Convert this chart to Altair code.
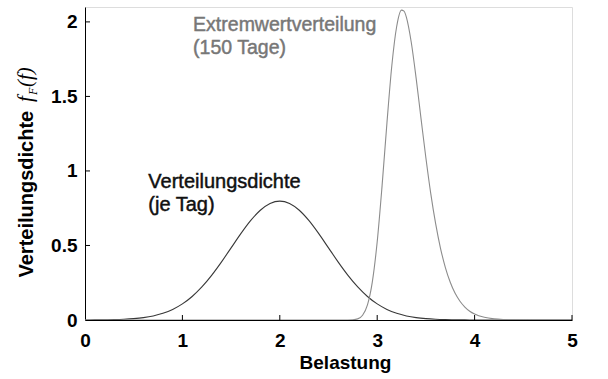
import altair as alt
import pandas as pd

# Daily load density
x_day = [0.0, 0.1, 0.2, 0.3, 0.4, 0.5, 0.6, 0.7, 0.8, 0.9,
         1.0, 1.1, 1.2, 1.3, 1.4, 1.5, 1.6, 1.7, 1.8, 1.9,
         2.0, 2.1, 2.2, 2.3, 2.4, 2.5, 2.6, 2.7, 2.8, 2.9,
         3.0, 3.1, 3.2, 3.3, 3.4, 3.5, 3.6, 3.7, 3.8, 3.9,
         4.0, 4.1, 4.2, 4.3, 4.5, 5.0]
y_day = [0.0003, 0.0006, 0.0012, 0.0025, 0.0048, 0.0089, 0.0158, 0.0271, 0.0448, 0.0709,
         0.1080, 0.1579, 0.2218, 0.2995, 0.3884, 0.4839, 0.5794, 0.6664, 0.7365, 0.7821,
         0.7979, 0.7821, 0.7365, 0.6664, 0.5794, 0.4839, 0.3884, 0.2995, 0.2218, 0.1579,
         0.1080, 0.0709, 0.0448, 0.0271, 0.0158, 0.0089, 0.0048, 0.0025, 0.0012, 0.0006,
         0.0003, 0.0001, 0.0001, 0.0, 0.0, 0.0]

# Extreme value density for 150 days
x_ext = [0.0, 2.6, 2.7, 2.75, 2.8, 2.85, 2.9, 2.95, 3.0, 3.05, 3.1, 3.15, 3.2, 3.25,
         3.275, 3.3, 3.35, 3.4, 3.45, 3.5, 3.55, 3.6, 3.65, 3.7, 3.75, 3.8, 3.85,
         3.9, 3.95, 4.0, 4.1, 4.2, 4.3, 4.4, 4.6, 5.0]
y_ext = [0.0, 0.0, 0.0002, 0.0013, 0.0075, 0.032, 0.101, 0.256, 0.525, 0.900, 1.322,
         1.706, 1.969, 2.079, 2.072, 2.031, 1.862, 1.621, 1.351, 1.087, 0.848, 0.646,
         0.481, 0.352, 0.253, 0.179, 0.126, 0.087, 0.059, 0.040, 0.018, 0.0075, 0.003,
         0.0012, 0.0001, 0.0]

x_ticks = [0, 1, 2, 3, 4, 5]
y_ticks = [0, 0.5, 1, 1.5, 2]

W, H = 487, 313
FONT = "Liberation Sans"

day = pd.DataFrame({"x": x_day, "y": y_day})
ext = pd.DataFrame({"x": x_ext, "y": y_ext})

xscale = alt.Scale(domain=[0, 5], nice=False)
yscale = alt.Scale(domain=[0, 2.1], nice=False)

xaxis = alt.Axis(values=x_ticks, format="~g", ticks=False, tickSize=0, grid=False,
                 labelFlush=False,
                 domainColor="black", domainWidth=1,
                 labelFont=FONT, labelFontWeight="bold", labelFontSize=19,
                 labelColor="black", labelPadding=11, labelBaseline="top",
                 title="Belastung", titleFont=FONT, titleFontWeight="bold",
                 titleFontSize=19, titleColor="black", titleX=260, titleY=48,
                 titleBaseline="alphabetic", titleAlign="center")
yaxis = alt.Axis(values=y_ticks, format="~g", ticks=False, tickSize=0, grid=False,
                 labelFlush=False,
                 domainColor="black", domainWidth=1,
                 labelFont=FONT, labelFontWeight="bold", labelFontSize=19,
                 labelColor="black", labelPadding=8,
                 title="Verteilungsdichte", titleFont=FONT, titleFontWeight="bold",
                 titleFontSize=20, titleColor="black", titleAngle=270,
                 titleAlign="left", titleBaseline="alphabetic", titleX=-53, titleY=270)

base_day = alt.Chart(day).mark_line(color="#383838", strokeWidth=1.1,
                                    interpolate="monotone", clip=True).encode(
    x=alt.X("x:Q", scale=xscale, axis=xaxis),
    y=alt.Y("y:Q", scale=yscale, axis=yaxis),
)
base_ext = alt.Chart(ext).mark_line(color="#8c8c8c", strokeWidth=1.1,
                                    interpolate="monotone", clip=True).encode(
    x=alt.X("x:Q", scale=xscale),
    y=alt.Y("y:Q", scale=yscale),
)

xt = alt.Chart(pd.DataFrame({"t": x_ticks[1:]})).mark_rule(color="black", strokeWidth=1).encode(
    x=alt.X("t:Q", scale=xscale), y=alt.value(H), y2=alt.value(H - 5))
yt = alt.Chart(pd.DataFrame({"t": y_ticks[1:]})).mark_rule(color="black", strokeWidth=1).encode(
    y=alt.Y("t:Q", scale=yscale), x=alt.value(0), x2=alt.value(5))

ann_day = alt.Chart().mark_text(text=["Verteilungsdichte", "(je Tag)"], align="left",
                                baseline="alphabetic", font=FONT, fontSize=20,
                                lineHeight=23, color="#111111",
                                stroke="#111111", strokeWidth=0.45).encode(
    x=alt.datum(0.65), y=alt.datum(0.886))
ann_ext = alt.Chart().mark_text(text=["Extremwertverteilung", "(150 Tage)"], align="left",
                                baseline="alphabetic", font=FONT, fontSize=19.5,
                                lineHeight=23, color="#777777",
                                stroke="#777777", strokeWidth=0.45).encode(
    x=alt.datum(1.11), y=alt.datum(1.94))

# italic symbol part of the y title
f1 = alt.Chart().mark_text(text="f", angle=270, align="left", baseline="alphabetic",
                           font="Liberation Serif", fontStyle="italic", fontSize=21,
                           color="black").encode(x=alt.value(-53), y=alt.value(95))
f2 = alt.Chart().mark_text(text="F", angle=270, align="left", baseline="alphabetic",
                           font="Liberation Serif", fontStyle="italic", fontSize=12,
                           color="black").encode(x=alt.value(-48), y=alt.value(88))
f3 = alt.Chart().mark_text(text="(f)", angle=270, align="left", baseline="alphabetic",
                           font="Liberation Serif", fontStyle="italic", fontSize=21,
                           color="black").encode(x=alt.value(-53), y=alt.value(80))

chart = alt.layer(base_day, base_ext, xt, yt, ann_day, ann_ext, f1, f2, f3).properties(
    width=W, height=H,
    autosize=alt.AutoSizeParams(type="none"),
    padding={"left": 85, "top": 7, "right": 36, "bottom": 59},
).configure_view(stroke=None).configure(background="white")

chart.save("out.html", embed_options={"renderer": "svg", "actions": False})
